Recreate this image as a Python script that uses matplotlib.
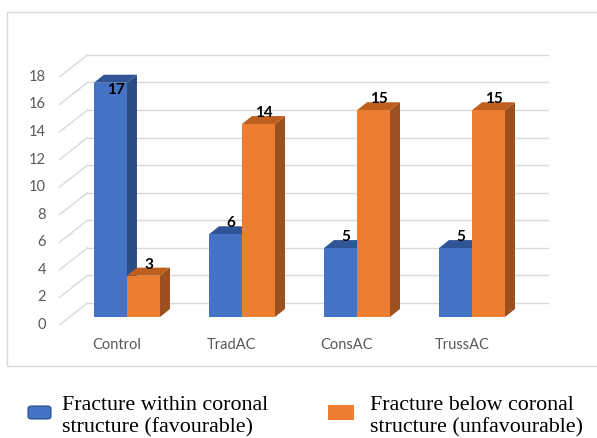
import matplotlib
matplotlib.use("Agg")
import matplotlib.pyplot as plt
from matplotlib.patches import Polygon, Rectangle, FancyBboxPatch

# chart data
categories = ["Control", "TradAC", "ConsAC", "TrussAC"]
favourable = [17, 6, 5, 5]
unfavourable = [3, 14, 15, 15]
series_labels = ["Fracture within coronal\nstructure (favourable)",
                 "Fracture below coronal\nstructure (unfavourable)"]
y_ticks = list(range(0, 19, 2))

# colours: front, side, top
blue = ("#4472C4", "#2B4D86", "#2F5597")
orange = ("#ED7D31", "#9C501F", "#BF5F1E")
grid_col = "#D9D9D9"
text_col = "#595959"

fig = plt.figure(figsize=(5.97, 4.38), dpi=100)
ax = fig.add_axes([0, 0, 1, 1])
ax.set_xlim(-1.104, 4.087)
ax.set_ylim(-8.78, 23.0)
ax.axis("off")

# fake 3d offsets (in data units)
bar_w = 0.287
dx, dy = 0.087, 0.58          # bar depth
back_dx, back_dy = 0.157, 1.016  # back wall relative to bar plane
left, right = -0.5, 3.5

# gridlines on the back wall + left diagonal stubs
for v in y_ticks:
    ax.plot([left - dx, left + back_dx], [v - dy, v + back_dy],
            color=grid_col, lw=1, zorder=1)
    ax.plot([left + back_dx, right + back_dx], [v + back_dy, v + back_dy],
            color=grid_col, lw=1, zorder=1)
    ax.text(-0.704, v - dy, str(v), ha="right", va="center",
            fontsize=10.5, color=text_col, family="Lato")


def draw_bar(x0, v, cols, z):
    x1 = x0 + bar_w
    ax.add_patch(Polygon([(x1, 0), (x1 + dx, dy), (x1 + dx, v + dy), (x1, v)],
                         closed=True, fc=cols[1], ec="none", zorder=z))
    ax.add_patch(Polygon([(x0, v), (x0 + dx, v + dy), (x1 + dx, v + dy), (x1, v)],
                         closed=True, fc=cols[2], ec="none", zorder=z))
    ax.bar(x0, v, width=bar_w, align="edge", color=cols[0], zorder=z + 0.5)
    cx = x0 + bar_w / 2 + dx / 2
    if v == max(favourable + unfavourable):
        ax.text(cx, v, str(v), ha="center", va="top", fontsize=11,
                fontweight="bold", family="Lato", zorder=10)
    else:
        ax.text(cx, v + dy / 2, str(v), ha="center", va="bottom", fontsize=11,
                fontweight="bold", family="Lato", zorder=10)


z = 2
for i, cat in enumerate(categories):
    draw_bar(i - bar_w, favourable[i], blue, z)
    z += 1
    draw_bar(i, unfavourable[i], orange, z)
    z += 1
    ax.text(i - dx, -2.03, cat, ha="center", va="center",
            fontsize=10.5, color=text_col, family="Lato")

# chart frame
W, H = 597, 438
fig.patches.append(Rectangle((7 / W, 1 - 366 / H), 1.2, 354 / H,
                             transform=fig.transFigure, fill=False,
                             ec=grid_col, lw=1))

# legend under the frame
fig.patches.append(FancyBboxPatch((28 / W, 1 - 419 / H), 23 / W, 13 / H,
                                  boxstyle="round,pad=0,rounding_size=0.006",
                                  transform=fig.transFigure, fc=blue[0],
                                  ec=blue[1], lw=0.8))
fig.patches.append(Rectangle((328 / W, 1 - 420 / H), 26 / W, 15 / H,
                             transform=fig.transFigure, fc=orange[0], ec="none"))
fig.text(62 / W, 1 - 417 / H, series_labels[0], ha="left", va="center",
         fontsize=15.8, family="Liberation Serif", linespacing=1.22)
fig.text(370 / W, 1 - 417 / H, series_labels[1], ha="left", va="center",
         fontsize=15.8, family="Liberation Serif", linespacing=1.22)

fig.savefig("out.png", dpi=100)
